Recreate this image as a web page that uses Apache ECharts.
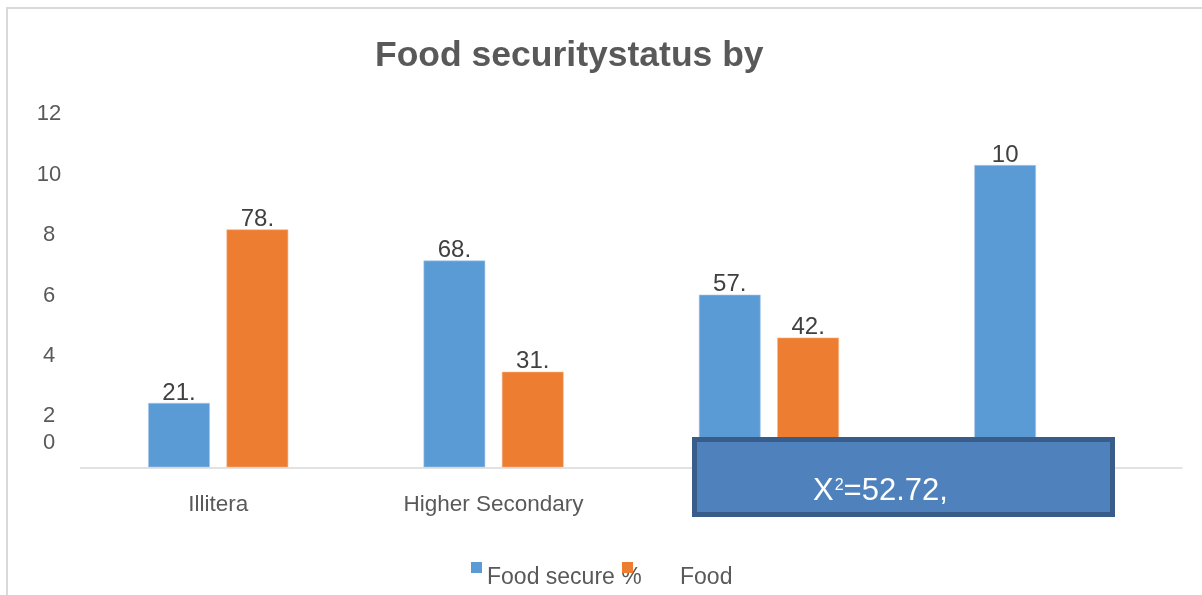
<!DOCTYPE html>
<html>
<head>
<meta charset="utf-8">
<style>
  html, body { margin: 0; padding: 0; background: #ffffff; }
  #chart { width: 1202px; height: 595px; }
</style>
<script src="https://cdn.jsdelivr.net/npm/echarts@6/dist/echarts.min.js"></script>
</head>
<body>
<div id="chart"></div>
<script>
// Education levels along the x axis
const categories = ['Illitera', 'Higher Secondary', 'Secondary', 'Graduate'];
// Share of households in each group (%)
const foodSecure = [21.3, 68.4, 57.1, 100];
const foodInsecure = [78.7, 31.6, 42.9, 0];
// Value axis ticks
const yTicks = [0, 20, 40, 60, 80, 100, 120];
const chiSquare = '52.72';

const FONT = '"Liberation Sans", Arial, sans-serif';
const BLUE = '#5b9bd5';
const ORANGE = '#ed7d31';

const chart = echarts.init(document.getElementById('chart'), null, { renderer: 'canvas' });

const barLabel = {
  show: true,
  position: 'top',
  distance: 1,
  color: '#404040',
  fontFamily: FONT,
  fontSize: 24,
  lineHeight: 18,
  width: 37,
  overflow: 'truncate',
  ellipsis: ''
};

// legend text sits a little below its swatch
function legendFor(name, left, padLeft) {
  return {
    data: [name],
    left: left,
    top: 557,
    icon: 'rect',
    itemWidth: 11,
    itemHeight: 11,
    selectedMode: false,
    itemStyle: { borderWidth: 0 },
    formatter: function (n) { return '{t|' + n + '}'; },
    textStyle: {
      rich: {
        t: { fontFamily: FONT, fontSize: 23, color: '#595959', padding: [20, 0, 0, padLeft] }
      }
    }
  };
}

chart.setOption({
  backgroundColor: '#ffffff',
  animation: false,
  title: {
    text: 'Food securitystatus by',
    left: 370,
    top: 33,
    textStyle: { fontFamily: FONT, fontSize: 35.5, fontWeight: 'bold', color: '#595959' }
  },
  legend: [
    legendFor('Food secure %', 466, 0),
    legendFor('Food', 617, 42)
  ],
  grid: { left: 80.5, right: 20, top: 104.6, bottom: 127.7, containLabel: false },
  xAxis: {
    type: 'category',
    data: categories,
    axisLine: { lineStyle: { color: '#d9d9d9', width: 1.5 } },
    axisTick: { show: false },
    axisLabel: { fontFamily: FONT, fontSize: 22.5, color: '#595959', margin: 26 }
  },
  yAxis: {
    type: 'value',
    min: yTicks[0],
    max: yTicks[yTicks.length - 1],
    interval: 20,
    axisLine: { show: false },
    axisTick: { show: false },
    splitLine: { show: false },
    axisLabel: {
      align: 'center',
      margin: 31.5,
      formatter: function (v) {
        const t = String(v / 10);
        return v === 0 ? '{z|' + t + '}' : '{n|' + t + '}';
      },
      rich: {
        n: { fontFamily: FONT, fontSize: 22, color: '#595959', padding: [19, 0, 0, 0] },
        z: { fontFamily: FONT, fontSize: 22, color: '#595959', padding: [0, 0, 48, 0] }
      }
    }
  },
  series: [
    {
      name: 'Food secure %',
      type: 'bar',
      data: foodSecure,
      barWidth: 61.7,
      barGap: '27%',
      itemStyle: { color: BLUE, borderColor: '#a9c8ea', borderWidth: 0.6 },
      label: barLabel
    },
    {
      name: 'Food',
      type: 'bar',
      data: foodInsecure,
      barWidth: 61.7,
      itemStyle: { color: ORANGE, borderColor: '#f5b48a', borderWidth: 0.6 },
      label: Object.assign({}, barLabel, {
        formatter: function (p) { return p.value > 0 ? String(p.value) : ''; }
      })
    }
  ],
  graphic: [
    {
      type: 'rect',
      z: 10,
      silent: true,
      shape: { x: 7, y: 8, width: 1220, height: 620 },
      style: { fill: 'none', stroke: '#d9d9d9', lineWidth: 2 }
    },
    {
      // chi-square result panel laid over the lower right of the plot
      type: 'rect',
      z: 100,
      silent: true,
      shape: { x: 694.5, y: 439.5, width: 418, height: 75 },
      style: { fill: '#4f81bd', stroke: '#385d8a', lineWidth: 5 }
    },
    {
      type: 'text',
      z: 101,
      silent: true,
      x: 813,
      y: 491,
      style: {
        text: '{a|X}{s|2}{a|=' + chiSquare + ',}',
        verticalAlign: 'middle',
        align: 'left',
        rich: {
          a: { fontFamily: FONT, fontSize: 31, fill: '#ffffff' },
          s: { fontFamily: FONT, fontSize: 16, fill: '#ffffff', verticalAlign: 'top', padding: [2, 0, 0, 1] }
        }
      }
    }
  ]
});
</script>
</body>
</html>
